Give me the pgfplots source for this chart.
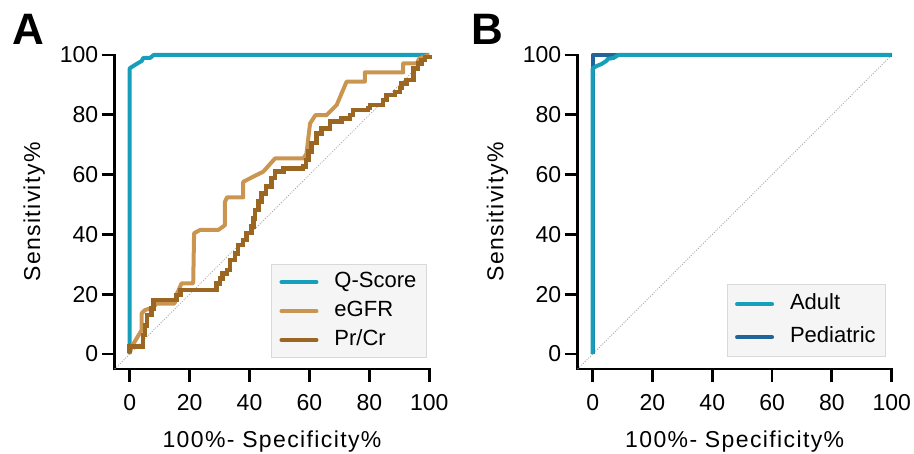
\documentclass[border=0pt]{standalone}
\usepackage{fontspec}
\setmainfont{Liberation Sans}
\newfontfamily\spaced[LetterSpace=6]{Liberation Sans}
\usepackage{pgfplots}
\pgfplotsset{compat=1.18}
\definecolor{qteal}{HTML}{169FBB}
\definecolor{egfr}{HTML}{C99550}
\definecolor{prcr}{HTML}{9A6621}
\definecolor{ped}{HTML}{22639A}

\pgfplotsset{
 rocstyle/.style={
  scale only axis, width=314.6pt, height=314pt,
  xmin=-5, xmax=100, ymin=-5, ymax=100,
  axis x line*=bottom, axis y line*=left,
  axis line style={line width=2.8pt, -, line cap=rect},
  xtick={0,20,...,100}, ytick={0,20,...,100},
  tick align=outside, major tick length=13pt,
  every tick/.style={black, line width=2.8pt},
  ticklabel style={font=\fontsize{23}{23}\selectfont},
  xticklabel style={yshift=-9pt},
  /pgf/number format/assume math mode=true,
  clip=false,
  xlabel={\spaced 100\%- Specificity\%},
  ylabel={\spaced Sensitivity\%},
  label style={font=\fontsize{23}{23}\selectfont},
  xlabel style={at={(axis description cs:0.5,-0.25)}, anchor=base},
  ylabel style={at={(axis description cs:-0.237,0.5)}, anchor=base},
  legend cell align=left,
  legend image code/.code={\draw[##1, line width=4pt, line cap=round] (0pt,0pt) -- (35pt,0pt);},
  legend style={fill=black!4, draw=black!15, line width=0.8pt,
    font=\fontsize{22}{22}\selectfont,
    nodes={text height=16pt, text depth=5pt, inner sep=2pt},
    inner xsep=8pt,
    /tikz/every odd column/.append style={column sep=14pt}},
 }
}

\begin{document}
\begin{tikzpicture}
\useasboundingbox (0pt,0pt) rectangle (914pt,454pt);
\node[anchor=base west, inner sep=0pt, font=\fontsize{44}{44}\selectfont\bfseries] at (12pt,409pt) {A};
\node[anchor=base west, inner sep=0pt, font=\fontsize{44}{44}\selectfont\bfseries] at (471pt,409pt) {B};

\begin{axis}[rocstyle, at={(114.7pt,85pt)}, anchor=south west,
  legend style={at={(0.992,0.035)}, anchor=south east, row sep=4pt, inner ysep=5pt}]
\addplot[forget plot, gray!70, line width=0.8pt, dash pattern=on 1pt off 1.5pt] coordinates {(-5,-5) (100,100)};
\addplot[qteal, line width=4pt, line join=round] coordinates {
(0,0) (0,95.5) (0.7,96) (2.3,97) (4,98) (4.5,99) (6.8,99) (8,100) (100,100)};
\addlegendentry{Q-Score}
\addplot[egfr, line width=4pt, line join=round] coordinates {
(0,0.8) (1,3) (2.5,5.5) (4,8) (4,13.6) (5.1,14.7) (7.9,15.6) (9,16.9) (15,16.9) (15.7,20) (17.3,23.6) (21.2,23.6)
(21.5,40.4) (23.5,41.5) (29.6,41.5) (31.8,43.1) (31.8,50.9) (32.5,52.4) (37.9,52.4) (37.9,57.6) (44.6,61)
(48.5,65.4) (58,65.4) (59,67) (60.2,77.1) (62,79.9) (65.7,79.9) (69.1,83.3) (72.4,91.1) (78.5,91.1) (78.5,94.2)
(91.3,94.2) (91.3,97.2) (95.8,97.2) (96.7,98.9) (100,100)};
\addlegendentry{eGFR}
\addplot[prcr, line width=4.5pt, line join=miter, const plot] coordinates {
(0,0.4) (0,2.5) (4.5,2.5) (4.5,6.4) (5.1,9.5) (5.7,13) (7.3,15.3) (7.9,18) (14.6,18) (15.7,19.7) (17,21.4) (28,21.4)
(29,23.6) (30.1,25.3) (31,27) (32.4,28.1) (33.5,31.4) (35.1,33.7) (36.2,36.5) (37.9,38.1) (39,40.4) (40.7,42.6)
(41.3,45.4) (41.8,48.2) (43,51) (44,53.7) (45.5,56) (47.4,58.8) (48.5,61) (51.3,62.1) (57.9,62.7) (58.9,64.9) (59.6,67.7)
(60.7,70.5) (62.4,73.8) (64.1,75.5) (66.8,77.7) (70.7,78.8) (73.5,79.9) (74.6,81.6) (79.6,82.2) (80.2,83.3)
(83.5,83.3) (84.6,84.9) (85.7,86.6) (86.9,86.6) (88.5,87.7) (90.2,88.9) (90.7,90.5) (92.4,91.6) (94.7,91.6)
(94.7,95.5) (96.3,97.2) (97.4,98.3) (98.5,99.4) (100,100)};
\addlegendentry{Pr/Cr}
\end{axis}

\begin{axis}[rocstyle, at={(577.7pt,85pt)}, anchor=south west, width=314pt,
  legend style={at={(0.982,0.038)}, anchor=south east, row sep=8pt, inner ysep=7pt}]
\addplot[forget plot, gray!70, line width=0.8pt, dash pattern=on 1pt off 1.5pt] coordinates {(-5,-5) (100,100)};
\addplot[forget plot, ped, line width=4pt, line join=round] coordinates {(0,0) (0,100) (100,100)};
\addplot[qteal, line width=4pt, line join=round] coordinates {
(0,0) (0,95.5) (1.3,96.3) (3,97) (4.7,98.1) (5,98.7) (7,99) (8.6,100) (100,100)};
\addlegendentry{Adult}
\addlegendimage{ped, line width=4pt}
\addlegendentry{Pediatric}
\end{axis}
\end{tikzpicture}
\end{document}
